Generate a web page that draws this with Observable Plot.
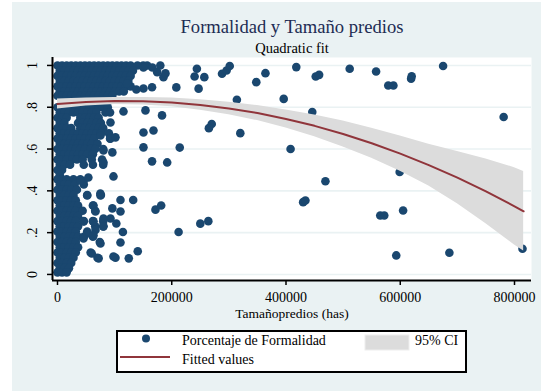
<!DOCTYPE html>
<html><head><meta charset="utf-8">
<script src="https://cdn.jsdelivr.net/npm/d3@7"></script>
<script src="https://cdn.jsdelivr.net/npm/@observablehq/plot@0.6"></script>
<style>
body{margin:0;background:#fff;}
#wrap{position:relative;width:541px;height:391px;background:#fff;overflow:hidden;font-family:"Liberation Serif","Times New Roman",serif;}
#bg{position:absolute;left:12px;top:2px;right:0;bottom:0;background:#EAF2F3;}
#chart{position:absolute;left:0;top:0;}
#legend{position:absolute;left:116px;top:330px;}
</style></head>
<body>
<div id="wrap"><div id="bg"></div><div id="chart"></div><div id="legend"></div></div>
<script>
const title = "Formalidad y Tamaño predios";
const subtitle = "Quadratic fit";
const xTitle = "Tamañopredios (has)";
const xTicks = [0, 200000, 400000, 600000, 800000];
const yTicks = [0, 0.2, 0.4, 0.6, 0.8, 1];
const yTickLabels = ["0", ".2", ".4", ".6", ".8", "1"];
const xDomain = [-8750, 829750];
const yDomain = [-0.029, 1.038];

// Dense part of the scatter, read row by row: [Porcentaje de Formalidad, [Tamaño predios ...]]
const filasDensas = [
 [1.0,   [0,8000,16000,24000,32000,40000,48000,56000,64000,72000,80000,88000,96000,104000,112000,120000,128000,140000,150000,157000]],
 [0.975, [4000,12000,20000,28000,36000,44000,52000,60000,68000,76000,84000,92000,100000,108000,116000,124000,132000]],
 [0.95,  [0,8000,16000,24000,32000,40000,48000,56000,64000,72000,80000,88000,96000,104000,112000,120000,128000]],
 [0.925, [4000,12000,20000,28000,36000,44000,52000,60000,68000,76000,84000,92000,100000,108000,116000,124000]],
 [0.90,  [0,8000,16000,24000,32000,40000,48000,56000,64000,72000,80000,88000,96000,104000,112000,120000,128000]],
 [0.875, [4000,12000,20000,28000,36000,44000,52000,60000,68000,76000,84000,92000,100000,108000,116000]],
 [0.855, [0,8000,16000,24000,32000,40000,48000,56000,64000,72000,80000,88000,96000]],
 [0.80,  [0,8000,16000,24000,32000,40000,48000,56000,64000,72000,80000,88000]],
 [0.775, [4000,12000,20000,28000,36000,44000,52000,60000,68000,84000,92000]],
 [0.75,  [0,8000,16000,40000,48000,56000,64000,72000]],
 [0.725, [4000,12000,36000,44000,52000,60000,68000,76000]],
 [0.70,  [0,8000,16000,24000,40000,48000,56000,64000,72000,80000]],
 [0.675, [4000,12000,20000,28000,36000,44000,52000,60000,68000,76000,90000]],
 [0.65,  [0,8000,16000,24000,32000,40000,48000,56000,64000,92000]],
 [0.625, [4000,12000,20000,28000,36000,44000,52000,60000,70000]],
 [0.60,  [0,8000,16000,24000,32000,40000,48000,58000,66000,80000]],
 [0.575, [4000,12000,20000,28000,36000,44000,52000,62000]],
 [0.55,  [0,8000,16000,26000,34000,44000,60000,78000]],
 [0.525, [4000,12000,22000,46000,62000,80000]],
 [0.50,  [0,8000]],
 [0.475, [4000]],
 [0.455, [0,8000,16000,28000,40000]],
 [0.43,  [4000,12000,20000,30000,46000]],
 [0.405, [0,8000,16000,24000,34000]],
 [0.38,  [4000,12000,20000,28000,52000,76000]],
 [0.355, [0,8000,16000,24000,32000]],
 [0.33,  [4000,12000,20000,28000,36000,62000]],
 [0.305, [0,8000,16000,24000,32000,44000,66000]],
 [0.28,  [4000,12000,20000,28000,36000]],
 [0.255, [0,8000,16000,24000,32000,46000,62000,80000]],
 [0.23,  [4000,12000,20000,28000,36000,66000,80000]],
 [0.205, [0,8000,16000,24000,32000,52000]],
 [0.18,  [4000,12000,20000,28000,36000,46000,62000]],
 [0.155, [0,8000,16000,24000,32000,74000]],
 [0.13,  [4000,12000,20000,28000,36000]],
 [0.105, [0,8000,16000,24000,32000,58000]],
 [0.08,  [4000,12000,20000,28000,70000]],
 [0.055, [0,8000,16000,24000]],
 [0.03,  [4000,12000,20000]],
 [0.01,  [0,8000,16000]]
];

// Scattered points: [Tamaño predios (has), Porcentaje de Formalidad]
const dispersos = [
 [150500,0.99],[166000,0.99],[180000,1.0],[174500,0.968],[185500,0.944],[189000,0.962],[150500,0.89],[165500,0.896],[122000,0.914],[208000,0.895],[138000,0.885],
 [92750,0.651],[80500,0.593],[80500,0.536],[75250,0.665],
 [183000,0.761],[154000,0.785],[115500,0.78],[101500,0.656],[150500,0.679],[168000,0.689],[150500,0.608],[165500,0.541],[192000,0.536],[92750,0.727],[96000,0.584],[214000,0.607],
 [98000,0.469],[110250,0.356],[132500,0.356],[96000,0.316],[110250,0.301],[171500,0.31],[181500,0.33],[92750,0.268],[114500,0.203],[110250,0.153],[101500,0.080],[124800,0.077],[140500,0.111],[103000,0.244],[212000,0.203],
 [45500,0.445],[52000,0.378],[75250,0.378],[63000,0.330],[66500,0.301],[45500,0.254],[63000,0.254],[80500,0.268],[52000,0.196],[66500,0.213],[80500,0.230],[45500,0.172],[63000,0.188],[75250,0.148],[60000,0.100],[72000,0.077],[98000,0.086],[40250,0.45],[54000,0.464],[75000,0.387],
 [244000,0.984],[240000,0.947],[257000,0.944],[247000,0.889],[288000,0.960],[296000,0.976],[301500,0.997],[348000,0.92],[364000,0.963],[418000,0.992],[452000,0.947],[458000,0.955],[511500,0.984],
 [314000,0.836],[396000,0.84],[446000,0.777],[270000,0.72],[265000,0.70],[320000,0.676],[408000,0.60],[469000,0.446],[430000,0.346],[434000,0.354],[250000,0.243],[264000,0.255],
 [557700,0.971],[579000,0.904],[588000,0.904],[619000,0.936],[620000,0.948],[675000,0.997],[781000,0.753],[599000,0.49],[565000,0.282],[572000,0.282],[605000,0.306],[593000,0.091],[686000,0.104],[814000,0.123]
];

// Quadratic fit with 95% CI
const fitX = [0,50000,100000,150000,200000,250000,300000,350000,400000,450000,500000,550000,600000,650000,700000,750000,800000,816000];
const fitY = [0.815,0.825,0.830,0.829,0.823,0.811,0.794,0.772,0.744,0.711,0.672,0.628,0.578,0.523,0.463,0.397,0.326,0.302];
const ciLow = [0.791,0.806,0.813,0.811,0.802,0.786,0.764,0.736,0.701,0.659,0.610,0.556,0.494,0.423,0.338,0.242,0.141,0.112];
const ciHigh = [0.839,0.844,0.847,0.847,0.844,0.836,0.824,0.808,0.787,0.763,0.734,0.700,0.662,0.623,0.588,0.552,0.511,0.492];

const points = [];
for (const [y, xs] of filasDensas) for (const x of xs) points.push({x, y});
for (const [x, y] of dispersos) points.push({x, y});
const fit = fitX.map((x, i) => ({x, y: fitY[i], lo: ciLow[i], hi: ciHigh[i]}));

const navy = "#1A476F", maroon = "#90353B", band = "#DCDCDC", grid = "#EAF2F3";
const font = "'Liberation Serif','Times New Roman',serif";

const chart = Plot.plot({
  width: 541, height: 330,
  marginLeft: 52, marginRight: 10, marginTop: 57, marginBottom: 50,
  style: {background: "transparent", fontFamily: font, overflow: "visible"},
  x: {domain: xDomain},
  y: {domain: yDomain},
  marks: [
    Plot.frame({fill: "white", stroke: null}),
    Plot.gridY(yTicks, {stroke: grid, strokeOpacity: 1, strokeWidth: 1.6}),
    Plot.dot(points, {x: "x", y: "y", r: 4.3, fill: navy, stroke: null}),
    Plot.areaY(fit, {x: "x", y1: "lo", y2: "hi", fill: band, fillOpacity: 1}),
    Plot.line(fit, {x: "x", y: "y", stroke: maroon, strokeWidth: 2}),
    Plot.ruleX([xDomain[0]], {stroke: "black", strokeWidth: 2}),
    Plot.ruleY([yDomain[0]], {stroke: "black", strokeWidth: 2}),
    Plot.axisX({ticks: xTicks, tickFormat: d => String(d), tickSize: 5, tickPadding: 7, fontSize: 14, label: null, strokeWidth: 1.5, fill: "black"}),
    Plot.axisY({ticks: yTicks, tickFormat: () => "", tickSize: 5, label: null, strokeWidth: 1.5}),
    Plot.text(yTicks, {x: xDomain[0], y: d => d, text: (d, i) => yTickLabels[i], rotate: -90, dx: -20, fontSize: 14, fill: "black", textAnchor: "middle", lineAnchor: "middle"}),
    Plot.text([xTitle], {frameAnchor: "bottom", dy: 37, lineAnchor: "bottom", text: d => d, fontSize: 13.5, fill: "black"}),
    Plot.text([title], {frameAnchor: "top", dy: -25, lineAnchor: "bottom", text: d => d, fontSize: 18.6, fill: "#1E2D53"}),
    Plot.text([subtitle], {frameAnchor: "top", dy: -4.7, lineAnchor: "bottom", text: d => d, fontSize: 14.5, fill: "black"})
  ]
});
document.getElementById("chart").appendChild(chart);

// Legend
const ns = "http://www.w3.org/2000/svg";
const lg = document.createElementNS(ns, "svg");
lg.setAttribute("width", 352); lg.setAttribute("height", 44);
lg.innerHTML = `
<rect x="1" y="1" width="349" height="41" fill="white" stroke="black" stroke-width="2"/>
<circle cx="30" cy="8.5" r="4" fill="${navy}"/>
<text x="66" y="15" font-family="${font}" font-size="14">Porcentaje de Formalidad</text>
<rect x="249" y="5" width="44" height="15" fill="${band}" stroke="#EEEEEE" stroke-width="1"/>
<text x="299" y="15" font-family="${font}" font-size="14">95% CI</text>
<line x1="4" x2="54" y1="27" y2="27" stroke="${maroon}" stroke-width="2"/>
<text x="66" y="33.5" font-family="${font}" font-size="14">Fitted values</text>`;
document.getElementById("legend").appendChild(lg);
</script>
</body></html>
